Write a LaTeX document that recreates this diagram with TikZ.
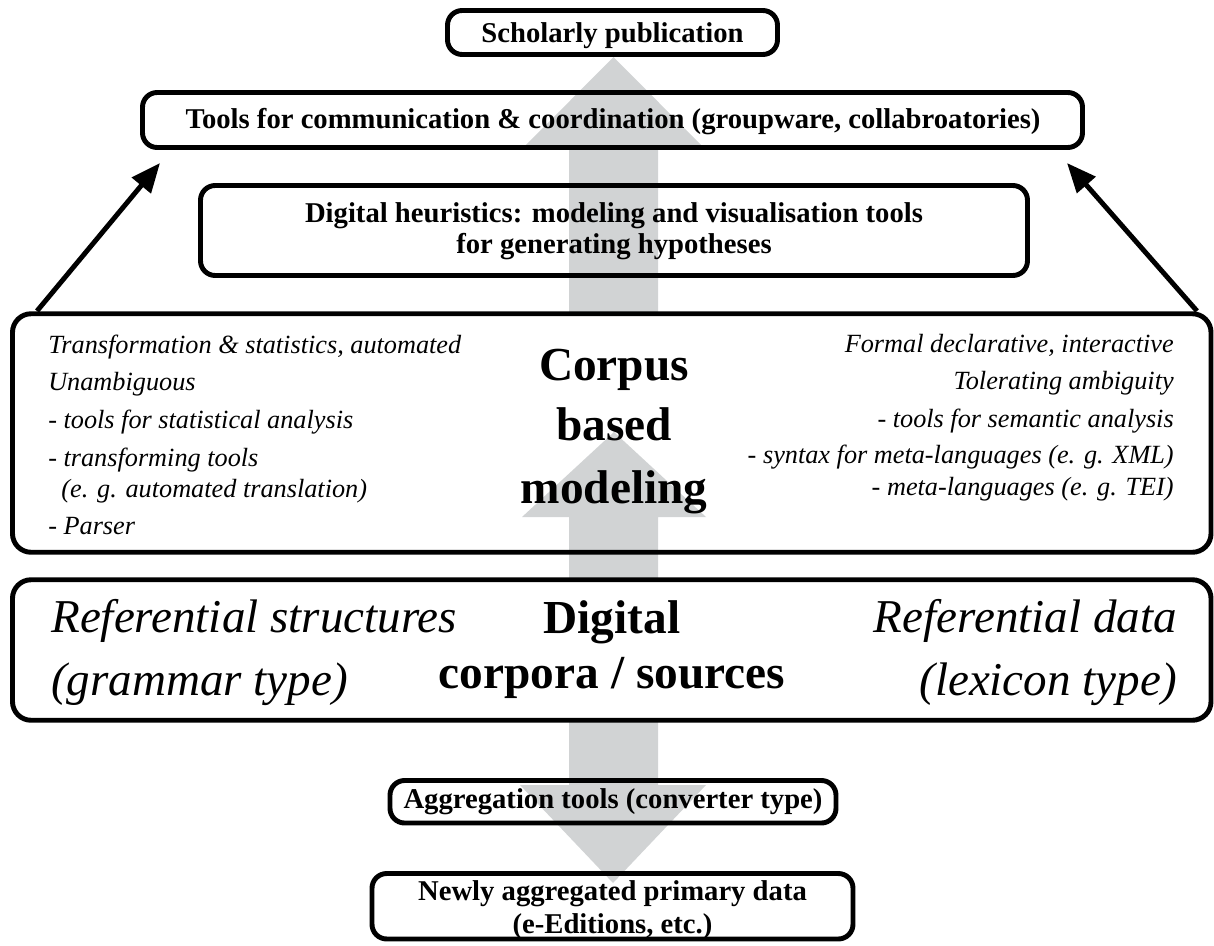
\documentclass[tikz,border=0pt]{standalone}
\usepackage{fontspec}
\setmainfont{Liberation Serif}
\usetikzlibrary{arrows.meta,calc}
\definecolor{arrowgrey}{RGB}{209,211,212}
\begin{document}
\begin{tikzpicture}[x=0.75pt,y=-0.75pt,
  box/.style={draw=black, line width=3.7pt, rounded corners=11pt, inner sep=0pt, fill=none},
  title/.style={font=\fontsize{21.5}{24}\selectfont\bfseries, inner sep=0pt},
  big/.style={font=\fontsize{35.5}{42}\selectfont\bfseries, inner sep=0pt},
  bigit/.style={font=\fontsize{35.3}{42}\selectfont\itshape, inner sep=0pt},
  item/.style={font=\fontsize{19.7}{23}\selectfont\itshape, inner sep=0pt},
  link/.style={line width=3.7pt, -{Triangle[length=22pt,width=18pt]}},
  blockarrow/.style={fill=arrowgrey, draw=none}]
\useasboundingbox (0,0) rectangle (1214,946);

% grey block arrows
\fill[blockarrow] (569,313) -- (569,147) -- (524,147) -- (613.5,57) -- (703,147) -- (658,147) -- (658,313) -- cycle;
\fill[blockarrow] (569,578) -- (569,517) -- (522,517) -- (614,432) -- (706,517) -- (658,517) -- (658,578) -- cycle;
\fill[blockarrow] (569,720) -- (569,785) -- (520,785) -- (613,883) -- (706,785) -- (658,785) -- (658,720) -- cycle;

% boxes
\node[box, minimum width=247.5pt, minimum height=33pt] (scholarbox) at (612.5,32.5) {};
\node[box, minimum width=705pt, minimum height=41.25pt] (toolsbox) at (612.5,120) {};
\node[box, minimum width=620.25pt, minimum height=67.5pt] (heurbox) at (614,230.5) {};
\node[box, rounded corners=14pt, minimum width=898.9pt, minimum height=178.9pt] (corpusbox) at (611.75,433) {};
\node[box, rounded corners=14pt, fill=white, minimum width=898.9pt, minimum height=105.4pt] (sourcebox) at (611.75,650) {};
\node[box, minimum width=334.5pt, minimum height=31.9pt] (aggbox) at (613,801.75) {};
\node[box, minimum width=360.75pt, minimum height=49.1pt] (newbox) at (612.5,906.25) {};

% titles
\node[title, anchor=base] (scholartext) at (612.5,42) {Scholarly publication};
\node[title, anchor=base] (toolstext) at (613,128) {Tools for communication \& coordination (groupware, collabroatories)};
\node[title, anchor=base] (heur1) at (614,222) {Digital heuristics: modeling and visualisation tools};
\node[title, anchor=base] (heur2) at (614,253) {for generating hypotheses};
\node[title, anchor=base] (aggtext) at (613,808) {Aggregation tools (converter type)};
\node[title, anchor=base] (new1) at (612.5,900) {Newly aggregated primary data};
\node[title, anchor=base] (new2) at (612.5,933) {(e-Editions, etc.)};

% corpus box contents
\node[big, anchor=base] (corp1) at (614,380) {Corpus};
\node[big, anchor=base] (corp2) at (614,440) {based};
\node[big, anchor=base] (corp3) at (614,503) {modeling};

\node[item, anchor=base west] (l1) at (48,353) {Transformation \& statistics, automated};
\node[item, anchor=base west] (l2) at (48,390) {Unambiguous};
\node[item, anchor=base west] (l3) at (48,428) {- tools for statistical analysis};
\node[item, anchor=base west] (l4) at (48,466) {- transforming tools};
\node[item, anchor=base west] (l5) at (48,497) {\ \ (e. g. automated translation)};
\node[item, anchor=base west] (l6) at (48,534) {- Parser};

\node[item, anchor=base east] (r1) at (1174,352) {Formal declarative, interactive};
\node[item, anchor=base east] (r2) at (1174,389) {Tolerating ambiguity};
\node[item, anchor=base east] (r3) at (1174,427) {- tools for semantic analysis};
\node[item, anchor=base east] (r4) at (1174,463) {- syntax for meta-languages (e. g. XML)};
\node[item, anchor=base east] (r5) at (1174,495) {- meta-languages (e. g. TEI)};

% sources box contents
\node[big, anchor=base] (src1) at (612,633) {Digital};
\node[big, anchor=base] (src2) at (612,688) {corpora / sources};
\node[bigit, anchor=base west] (gram1) at (51,632) {Referential structures};
\node[bigit, anchor=base west] (gram2) at (51,695) {(grammar type)};
\node[bigit, anchor=base east] (lex1) at (1177,632) {Referential data};
\node[bigit, anchor=base east] (lex2) at (1177,695) {(lexicon type)};

% black connectors
\coordinate (lstart) at (37,311);
\coordinate (lend) at (160,163);
\coordinate (rstart) at (1197,311);
\coordinate (rend) at (1067,163);
\draw[link] (lstart) -- (lend);
\draw[link] (rstart) -- (rend);
\end{tikzpicture}
\end{document}
